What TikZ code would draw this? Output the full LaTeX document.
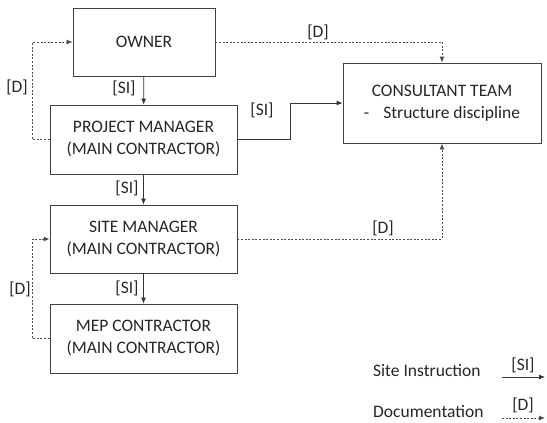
\documentclass[tikz,border=0pt]{standalone}
\usepackage{fontspec}
\setmainfont{Carlito}
\usetikzlibrary{arrows.meta}

\begin{document}
\begin{tikzpicture}[x=1pt,y=-1pt,
 font=\fontsize{17.5}{22}\selectfont, text=black!85,
 box/.style={draw=black!75,line width=0.8pt,align=center,inner sep=0pt},
 si/.style={draw=black!80,line width=0.8pt,-{Latex[length=6pt,width=5pt]}},
 doc/.style={si,dash pattern=on 2pt off 1.6pt,draw=black!70},
 lbl/.style={inner sep=0pt}]

\useasboundingbox (0,0) rectangle (547,423);

% boxes
\node [box,minimum width=142,minimum height=68] (own) at (144,42) {OWNER};
\node [box,minimum width=187,minimum height=69] (pm) at (143.5,139.5) {PROJECT MANAGER\\(MAIN CONTRACTOR)};
\node [box,minimum width=187,minimum height=68] (sm) at (143.5,239) {SITE MANAGER\\(MAIN CONTRACTOR)};
\node [box,minimum width=187,minimum height=69] (mep) at (143.5,338.5) {MEP CONTRACTOR\\(MAIN CONTRACTOR)};
\node [box,minimum width=198,minimum height=80] (con) at (442,103) {CONSULTANT TEAM\\-\hspace{14pt}Structure discipline};

% site instructions
\draw [si] (own) -- (pm);
\draw [si] (pm) -- (sm);
\draw [si] (sm) -- (mep);
\draw [si] (pm.east) -- ++(53,0) |- (con.west);
\node [lbl] at (124,88) {[SI]};
\node [lbl] at (127,188) {[SI]};
\node [lbl] at (127,288) {[SI]};
\node [lbl] at (262,110) {[SI]};

% documentation
\draw [doc] (own.east) -| (con.north);
\draw [doc] (pm.west) -- ++(-17,0) |- (own.west);
\draw [doc] (sm.east) -| (con.south);
\draw [doc] (mep.west) -- ++(-17,0) |- (sm.west);
\node [lbl] at (318,32) {[D]};
\node [lbl] at (17,87) {[D]};
\node [lbl] at (383,228) {[D]};
\node [lbl] at (20,289) {[D]};

% legend
\node [lbl,anchor=west] (lsi) at (373,371) {Site Instruction};
\node [lbl,anchor=west] (ldoc) at (373,412) {Documentation};
\coordinate (sia) at (502,377);
\coordinate (sib) at (545,377);
\coordinate (da) at (502,418);
\coordinate (db) at (545,418);
\draw [si] (sia) -- (sib);
\draw [doc] (da) -- (db);
\node [lbl] at (523,365) {[SI]};
\node [lbl] at (523,405) {[D]};

\end{tikzpicture}
\end{document}
